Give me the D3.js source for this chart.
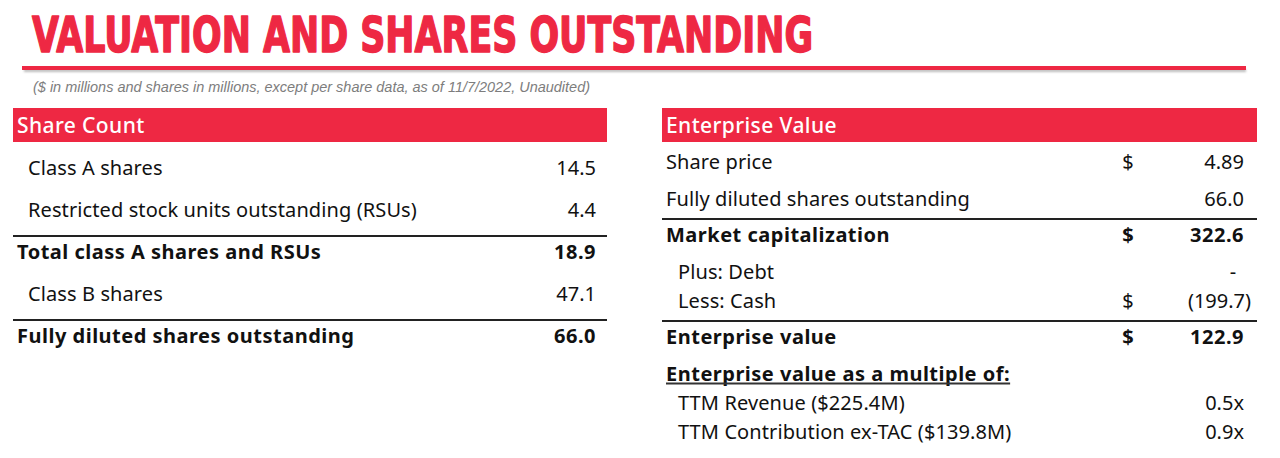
<!DOCTYPE html>
<html><head><meta charset="utf-8">
<script src="https://cdn.jsdelivr.net/npm/d3@7"></script>
<style>body{margin:0;background:#fff} svg{display:block}</style>
</head><body>
<svg id="c" width="1280" height="458"></svg>
<script>
// ---------- data ----------
const title = "VALUATION AND SHARES OUTSTANDING";
const subtitle = "($ in millions and shares in millions, except per share data, as of 11/7/2022, Unaudited)";

const shareHeader = "Share Count";
const shareLabels = ["Class A shares", "Restricted stock units outstanding (RSUs)", "Total class A shares and RSUs", "Class B shares", "Fully diluted shares outstanding"];
const shareValues = [14.5, 4.4, 18.9, 47.1, 66.0];
const shareKinds = ["item", "item", "total", "item", "total"];

const evHeader = "Enterprise Value";
const evLabels = ["Share price", "Fully diluted shares outstanding", "Market capitalization", "Plus: Debt", "Less: Cash", "Enterprise value", "Enterprise value as a multiple of:", "TTM Revenue ($225.4M)", "TTM Contribution ex-TAC ($139.8M)"];
const evValues = [4.89, 66.0, 322.6, 0, -199.7, 122.9, null, 0.5, 0.9];
const evCurrency = ["$", "", "$", "", "$", "$", "", "", ""];
const evSuffix = ["", "", "", "", "", "", "", "x", "x"];
const evDecimals = [2, 1, 1, 1, 1, 1, 1, 1, 1];
const evKinds = ["plain", "plain", "total", "sub", "sub", "total", "heading", "sub", "sub"];

// ---------- style ----------
const RED = "#EE2843";
const FONT = "'Noto Sans', 'Liberation Sans', Arial, sans-serif";
const FS = 20;
const isBold = k => k === "total" || k === "heading";
const LS_BOLD = 0.5, LS_REG = 0.1;

const svg = d3.select("#c");
const defs = svg.append("defs");
const blur = defs.append("filter").attr("id", "sh").attr("x", "-5%").attr("y", "-200%").attr("width", "110%").attr("height", "500%");
blur.append("feGaussianBlur").attr("stdDeviation", 1.2);

// title
svg.append("text")
  .attr("x", 32).attr("y", 52)
  .attr("font-family", "'DejaVu Sans Condensed', 'DejaVu Sans', sans-serif")
  .attr("font-weight", "bold").attr("font-size", 49)
  .attr("fill", RED).attr("stroke", RED).attr("stroke-width", 1.4).attr("stroke-linejoin", "round")
  .attr("textLength", 781).attr("lengthAdjust", "spacingAndGlyphs")
  .text(title);

// red rule with shadow
svg.append("rect").attr("x", 24).attr("y", 69).attr("width", 1222).attr("height", 3)
  .attr("fill", "#bdbdbd").attr("filter", "url(#sh)");
svg.append("rect").attr("x", 22).attr("y", 66).attr("width", 1224).attr("height", 4).attr("fill", RED);

// subtitle
svg.append("text")
  .attr("x", 33).attr("y", 92)
  .attr("font-family", "'Liberation Sans', Arial, sans-serif")
  .attr("font-style", "italic").attr("font-size", 14.5)
  .attr("fill", "#7d7d7d")
  .attr("textLength", 557).attr("lengthAdjust", "spacingAndGlyphs")
  .text(subtitle);

function fmt(v, d) { return d3.format(`,.${d}f`)(v); }

function drawTable(opt) {
  const g = svg.append("g");
  const x0 = opt.x0, x1 = opt.x1;
  // header bar
  g.append("rect").attr("x", x0).attr("y", 108).attr("width", x1 - x0).attr("height", 34).attr("fill", RED);
  g.append("text").attr("x", x0 + 4).attr("y", 133)
    .attr("font-family", FONT).attr("font-size", 21).attr("font-weight", 500)
    .attr("letter-spacing", 0.4)
    .attr("fill", "#fff").text(opt.header);

  const rows = opt.labels.map((l, i) => ({ label: l, kind: opt.kinds[i], i }));
  rows.forEach((r, i) => { r.y = opt.yScale(i); });

  const rg = g.selectAll("g.row").data(rows).join("g").attr("class", "row");

  rg.append("text")
    .attr("x", d => x0 + (d.kind === "item" || d.kind === "sub" ? opt.indent : 4))
    .attr("y", d => d.y + 7)
    .attr("font-family", FONT).attr("font-size", FS)
    .attr("font-weight", d => isBold(d.kind) ? 700 : 400)
    .attr("letter-spacing", d => isBold(d.kind) ? LS_BOLD : LS_REG)
    .attr("fill", "#111")
    .text(d => d.label);

  // rules above totals
  rg.filter(d => d.kind === "total").append("rect")
    .attr("x", x0).attr("width", x1 - x0)
    .attr("y", d => d.y - 17).attr("height", 2).attr("fill", "#222");

  // underline for heading
  rg.filter(d => d.kind === "heading").each(function (d) {
    const t = d3.select(this).select("text");
    const w = t.node().getComputedTextLength();
    d3.select(this).append("rect").attr("x", x0 + 4).attr("y", d.y + 9).attr("width", w).attr("height", 2).attr("fill", "#333");
  });

  opt.values(rg, rows);
}

// left table: uniform row spacing
const leftY = d3.scaleLinear().domain([0, 1]).range([168, 210]);
drawTable({
  x0: 13, x1: 607, indent: 15, header: shareHeader,
  labels: shareLabels, kinds: shareKinds, yScale: leftY,
  values: (rg) => {
    rg.append("text")
      .attr("x", 596).attr("y", d => d.y + 7)
      .attr("text-anchor", "end")
      .attr("font-family", FONT).attr("font-size", FS)
      .attr("font-weight", d => d.kind === "total" ? 700 : 400)
      .attr("letter-spacing", d => d.kind === "total" ? 0.5 : 0)
      .attr("fill", "#111")
      .text(d => fmt(shareValues[d.i], 1));
  }
});

// right table: compact spacing for consecutive sub-rows
const evSteps = evKinds.map((k, i) => {
  if (i === 0) return 0;
  const prev = evKinds[i - 1];
  return (k === "sub" && prev !== "total") ? 29 : 36.5;
});
const evOffsets = d3.cumsum(evSteps);
const rightY = d3.scaleLinear().domain([0, 1]).range([162, 163]);
drawTable({
  x0: 662, x1: 1257, indent: 16, header: evHeader,
  labels: evLabels, kinds: evKinds, yScale: i => rightY(0) + evOffsets[i],
  values: (rg) => {
    rg.append("text")
      .attr("x", 1128).attr("y", d => d.y + 7)
      .attr("text-anchor", "middle")
      .attr("font-family", FONT).attr("font-size", FS)
      .attr("font-weight", d => d.kind === "total" ? 700 : 400)
      .attr("fill", "#111")
      .text(d => evCurrency[d.i]);
    rg.filter(d => evValues[d.i] !== null).append("text")
      .attr("x", d => {
        const v = evValues[d.i];
        if (v === 0) return 1233;
        if (v < 0) return 1251;
        return 1244;
      })
      .attr("y", d => d.y + 7)
      .attr("text-anchor", d => evValues[d.i] === 0 ? "middle" : "end")
      .attr("font-family", FONT).attr("font-size", FS)
      .attr("font-weight", d => d.kind === "total" ? 700 : 400)
      .attr("letter-spacing", d => d.kind === "total" ? 0.5 : 0)
      .attr("fill", "#111")
      .text(d => {
        const v = evValues[d.i];
        if (v === 0) return "-";
        if (v < 0) return "(" + fmt(-v, evDecimals[d.i]) + ")";
        return fmt(v, evDecimals[d.i]) + evSuffix[d.i];
      });
  }
});
</script>
</body></html>
